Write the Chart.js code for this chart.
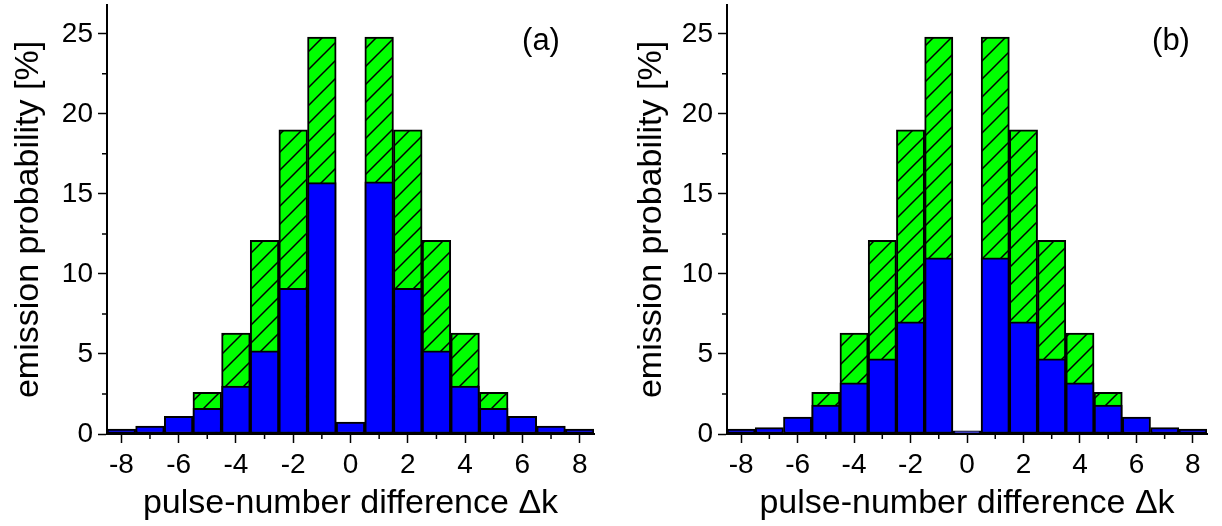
<!DOCTYPE html>
<html>
<head>
<meta charset="utf-8">
<script src="https://cdn.jsdelivr.net/npm/chart.js@4.4.1/dist/chart.umd.min.js"></script>
<style>
  html, body { margin: 0; padding: 0; background: #ffffff; }
  #wrap { position: relative; width: 1222px; height: 526px; overflow: hidden; }
  .panel { position: absolute; top: 0; width: 611px; height: 526px; }
  #panelA { left: 0; }
  #panelB { left: 611px; }
</style>
</head>
<body>
<div id="wrap">
  <div class="panel" id="panelA"><canvas id="chartA"></canvas></div>
  <div class="panel" id="panelB"><canvas id="chartB"></canvas></div>
</div>
<script>
// pulse-number difference Δk
const shifts = [-8, -7, -6, -5, -4, -3, -2, -1, 0, 1, 2, 3, 4, 5, 6, 7, 8];

// total emission probability [%] (hatched green), same in both panels
const totalProb = [null, null, null, 2.6, 6.3, 12.1, 19.0, 24.8, null, 24.8, 19.0, 12.1, 6.3, 2.6, null, null, null];

// emission probability [%] (blue), panel (a)
const blueA = [0.3, 0.5, 1.1, 1.6, 3.0, 5.2, 9.1, 15.7, 0.75, 15.75, 9.1, 5.2, 3.0, 1.6, 1.1, 0.5, 0.3];

// emission probability [%] (blue), panel (b)
const blueB = [0.3, 0.4, 1.05, 1.8, 3.2, 4.7, 7.0, 11.0, 0.2, 11.0, 7.0, 4.7, 3.2, 1.8, 1.05, 0.4, 0.3];

// axis ticks
const xMajorTicks = [-8, -6, -4, -2, 0, 2, 4, 6, 8];
const xMinorTicks = [-7, -5, -3, -1, 1, 3, 5, 7];
const yMajorTicks = [0, 5, 10, 15, 20, 25];
const yMinorTicks = [2.5, 7.5, 12.5, 17.5, 22.5];

const panelLabels = ['(a)', '(b)'];
const xTitle = 'pulse-number difference \u0394k';
const yTitle = 'emission probability [%]';

const FONT = "'Liberation Sans', Arial, Helvetica, sans-serif";

// green fill with black "/" hatching
function makeHatch() {
  const s = 18;
  const c = document.createElement('canvas');
  c.width = s; c.height = s;
  const g = c.getContext('2d');
  g.fillStyle = '#00ff00';
  g.fillRect(0, 0, s, s);
  g.strokeStyle = '#000000';
  g.lineWidth = 1.5;
  g.beginPath();
  g.moveTo(-2, s + 2); g.lineTo(s + 2, -2);
  g.moveTo(-2, 2); g.lineTo(2, -2);
  g.moveTo(s - 2, s + 2); g.lineTo(s + 2, s - 2);
  g.stroke();
  return g.createPattern(c, 'repeat');
}
const hatch = makeHatch();

// short outward minor ticks
const minorTicks = {
  id: 'minorTicks',
  afterDraw(chart) {
    const ctx = chart.ctx;
    const xs = chart.scales.x, ys = chart.scales.y;
    const len = 5;
    ctx.save();
    ctx.strokeStyle = '#000000';
    ctx.lineWidth = 1.5;
    ctx.beginPath();
    xMinorTicks.forEach(v => {
      const px = xs.getPixelForValue(v);
      ctx.moveTo(px, chart.chartArea.bottom);
      ctx.lineTo(px, chart.chartArea.bottom + len);
    });
    yMinorTicks.forEach(v => {
      const py = ys.getPixelForValue(v);
      ctx.moveTo(chart.chartArea.left, py);
      ctx.lineTo(chart.chartArea.left - len, py);
    });
    ctx.stroke();
    ctx.restore();
  }
};

// panel letter in the upper right of the plot area
const panelTag = {
  id: 'panelTag',
  afterDraw(chart, args, opts) {
    const ctx = chart.ctx;
    ctx.save();
    ctx.fillStyle = '#000000';
    ctx.font = '31px ' + FONT;
    ctx.textAlign = 'center';
    ctx.textBaseline = 'middle';
    ctx.fillText(opts.text, chart.chartArea.right - opts.dx, chart.chartArea.top + opts.dy);
    ctx.restore();
  }
};

function buildChart(canvasId, blue, cfg) {
  const points = arr => shifts.map((k, i) => ({ x: k, y: arr[i] }));
  return new Chart(document.getElementById(canvasId), {
    type: 'bar',
    data: {
      datasets: [
        {
          label: 'emission probability',
          data: points(blue),
          backgroundColor: '#0000ff',
          borderColor: '#000000',
          borderWidth: 2,
          borderSkipped: false,
          grouped: false,
          barPercentage: 1,
          categoryPercentage: 1,
          order: 1
        },
        {
          label: 'total',
          data: points(totalProb),
          backgroundColor: hatch,
          borderColor: '#000000',
          borderWidth: 2,
          borderSkipped: false,
          grouped: false,
          barPercentage: 1,
          categoryPercentage: 1,
          order: 2
        }
      ]
    },
    options: {
      responsive: true,
      maintainAspectRatio: false,
      animation: false,
      events: [],
      layout: { padding: { top: 5, right: cfg.padRight, left: 0, bottom: 0 } },
      plugins: {
        legend: { display: false },
        tooltip: { enabled: false },
        panelTag: { text: cfg.tag, dx: cfg.tagDx, dy: cfg.tagDy }
      },
      scales: {
        x: {
          type: 'linear',
          offset: false,
          min: -8.5,
          max: 8.5,
          afterBuildTicks: s => { s.ticks = xMajorTicks.map(v => ({ value: v })); },
          afterFit: s => { s.height = 92; s.paddingLeft = 0; s.paddingRight = 0; },
          border: { display: true, color: '#000000', width: 2 },
          grid: { display: true, offset: false, drawOnChartArea: false, drawTicks: true, tickLength: 9, tickColor: '#000000', tickWidth: 1.5 },
          ticks: { autoSkip: false, maxRotation: 0, padding: 5, color: '#000000', font: { family: FONT, size: 28 } },
          title: { display: true, text: xTitle, color: '#000000', font: { family: FONT, size: 34 }, padding: { top: 0, bottom: 2 } }
        },
        y: {
          type: 'linear',
          min: 0,
          max: 26.8,
          afterBuildTicks: s => { s.ticks = yMajorTicks.map(v => ({ value: v })); },
          afterFit: s => { s.width = cfg.yWidth; s.paddingTop = 0; s.paddingBottom = 0; },
          border: { display: true, color: '#000000', width: 2 },
          grid: { display: true, drawOnChartArea: false, drawTicks: true, tickLength: 9, tickColor: '#000000', tickWidth: 1.5 },
          ticks: { autoSkip: false, padding: 5, color: '#000000', font: { family: FONT, size: 28 } },
          title: { display: true, text: yTitle, color: '#000000', font: { family: FONT, size: 34 }, padding: { top: cfg.yTitlePad, bottom: 0 } }
        }
      }
    },
    plugins: [minorTicks, panelTag]
  });
}

buildChart('chartA', blueA, { tag: panelLabels[0], padRight: 17, yWidth: 107, yTitlePad: 8, tagDx: 53, tagDy: 36 });
buildChart('chartB', blueB, { tag: panelLabels[1], padRight: 15, yWidth: 116, yTitlePad: 20, tagDx: 36, tagDy: 36 });
</script>
</body>
</html>
